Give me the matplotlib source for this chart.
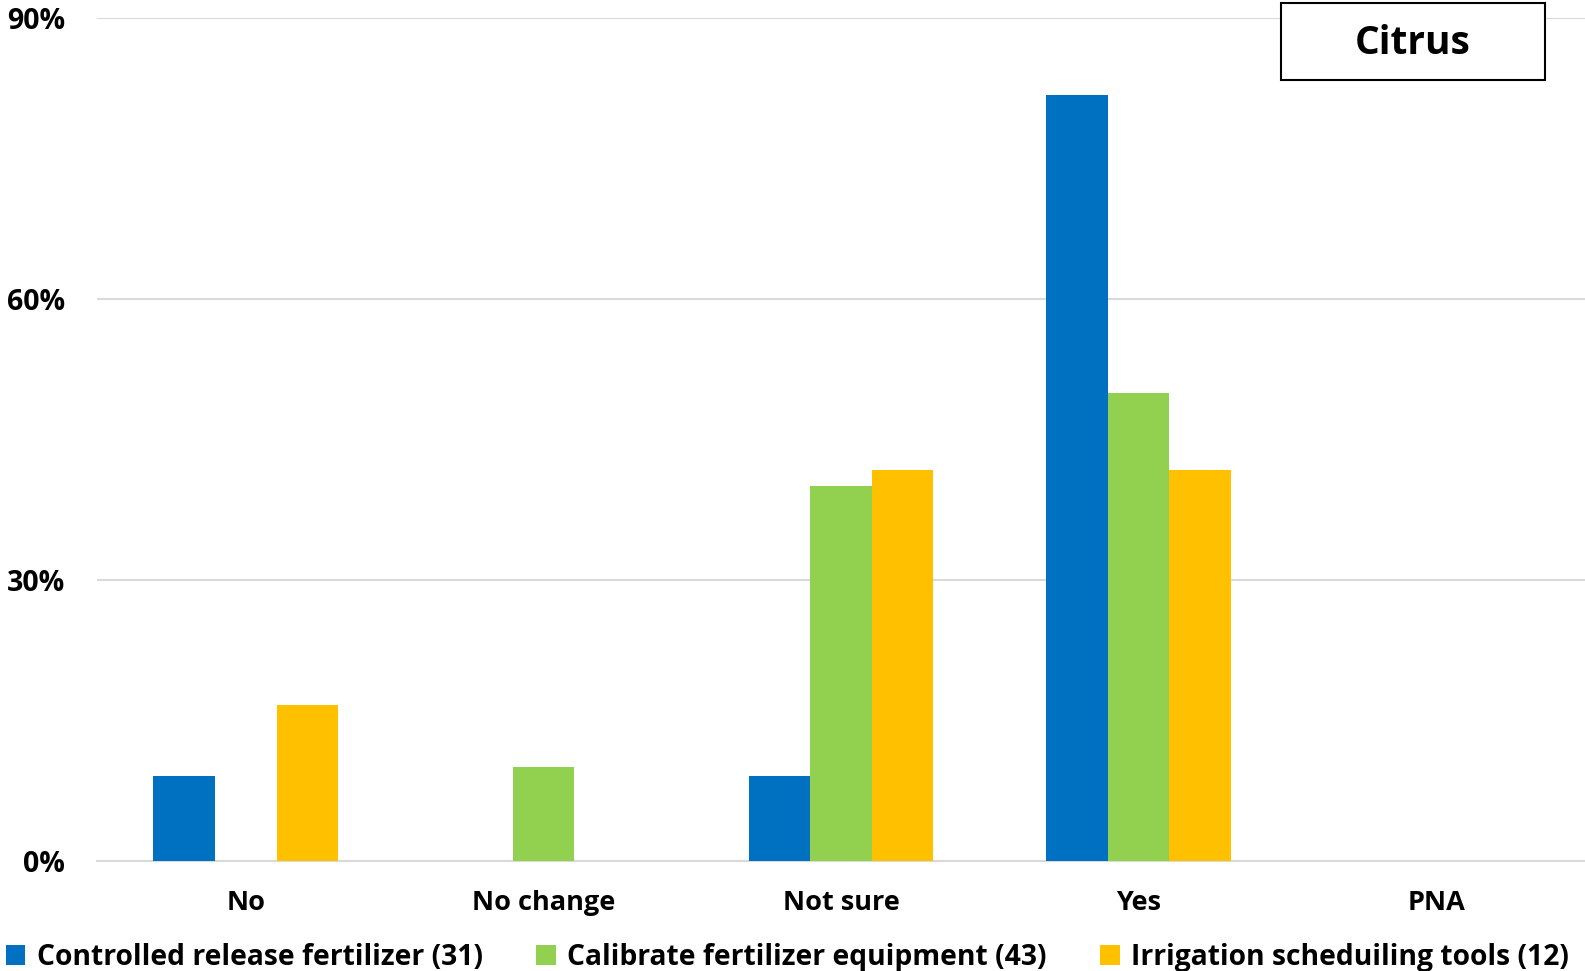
import matplotlib
matplotlib.use("Agg")
import matplotlib.pyplot as plt
from matplotlib.patches import Rectangle
import numpy as np

categories = ["No", "No change", "Not sure", "Yes", "PNA"]
series_names = ["Controlled release fertilizer (31)",
                "Calibrate fertilizer equipment (43)",
                "Irrigation scheduiling tools (12)"]
controlled = [9.1, 0, 9.1, 81.8, 0]
calibrate = [0, 10.0, 40.0, 50.0, 0]
irrigation = [16.7, 0, 41.7, 41.7, 0]
yticks = [0, 30, 60, 90]
colors = ["#0070C0", "#92D050", "#FFC000"]
title = "Citrus"

plt.rcParams["font.family"] = ["Open Sans", "DejaVu Sans"]
plt.rcParams["font.weight"] = "bold"

fig = plt.figure(figsize=(15.85, 9.71), dpi=100)
ax = fig.add_axes([97 / 1585, 1 - 861 / 971, 1 - 97 / 1585, (861 - 18) / 971])

x = np.arange(len(categories))
w = 0.207
for i, (vals, c, n) in enumerate(zip([controlled, calibrate, irrigation], colors, series_names)):
    ax.bar(x + (i - 1) * w, vals, width=w, color=c, label=n, zorder=3)

ax.set_xlim(-0.5, len(categories) - 0.5)
ax.set_ylim(0, 90)
ax.set_yticks(yticks)
ax.set_yticklabels([f"{v}%" for v in yticks])
ax.set_xticks(x)
ax.set_xticklabels(categories)
ax.yaxis.grid(True, color="#D9D9D9", linewidth=1.5, zorder=0)
for s in ["top", "right", "left"]:
    ax.spines[s].set_visible(False)
ax.spines["bottom"].set_color("#D9D9D9")
ax.spines["bottom"].set_linewidth(1.5)
ax.tick_params(axis="both", length=0, labelcolor="black")
ax.tick_params(axis="y", pad=23, labelsize=20.5)
ax.tick_params(axis="x", pad=21, labelsize=19.5)
for lab in ax.get_xticklabels() + ax.get_yticklabels():
    lab.set_fontweight("bold")

# title box in the upper right corner
fig.patches.append(Rectangle((1281 / 1585, 1 - 80 / 971), (1545 - 1281) / 1585, 77 / 971,
                             transform=fig.transFigure, facecolor="white", edgecolor="black",
                             linewidth=1.5, zorder=4))
fig.text((1281 + 1545) / 2 / 1585, 1 - 44 / 971, title, fontsize=28, fontweight="bold",
         ha="center", va="center", zorder=5)

fig.legend(loc="center left", bbox_to_anchor=(0.0, 1 - 957 / 971), ncol=3,
           frameon=False, prop=dict(size=20.3, weight="bold"),
           handlelength=0.7, handleheight=0.7, handletextpad=0.4,
           columnspacing=1.9, borderaxespad=0, borderpad=0.2)

fig.savefig("out.png", dpi=100, facecolor="white")
